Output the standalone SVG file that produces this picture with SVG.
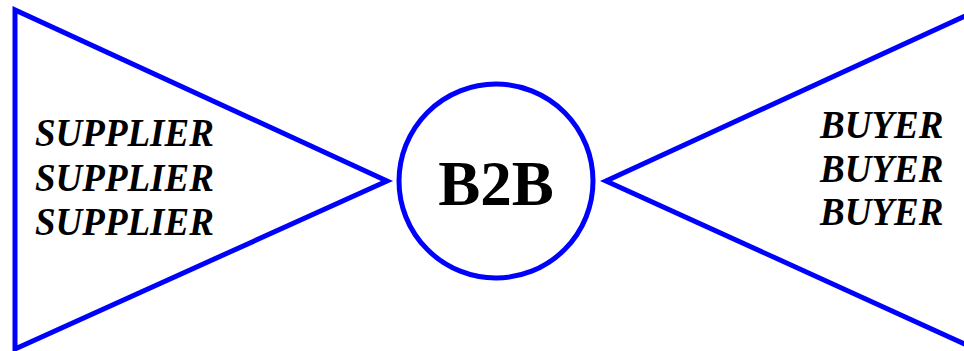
<svg xmlns="http://www.w3.org/2000/svg" width="964" height="351" viewBox="0 0 964 351">
<style>
.shape{fill:none;stroke:#0000ff;stroke-width:5;stroke-linejoin:miter}
.lbl{font-family:"Liberation Serif","Times New Roman",serif;font-weight:bold;font-style:italic;font-size:37px;fill:#000}
.hub{font-family:"Liberation Serif","Times New Roman",serif;font-weight:bold;font-size:63px;fill:#000}
</style>
<rect width="964" height="351" fill="#fff"/>
<g id="suppliers">
<polygon class="shape" points="15,10 15,349 387,181"/>
<text class="lbl" transform="translate(35,146) scale(1,1.08)">SUPPLIER</text>
<text class="lbl" transform="translate(35,191) scale(1,1.08)">SUPPLIER</text>
<text class="lbl" transform="translate(35,235) scale(1,1.08)">SUPPLIER</text>
</g>
<g id="b2b">
<circle class="shape" cx="496" cy="181" r="97"/>
<text class="hub" x="496" y="205" text-anchor="middle">B2B</text>
</g>
<g id="buyers">
<polygon class="shape" points="978,10 978,350 606,181"/>
<text class="lbl" transform="translate(820,138) scale(1,1.08)">BUYER</text>
<text class="lbl" transform="translate(820,182) scale(1,1.08)">BUYER</text>
<text class="lbl" transform="translate(820,225) scale(1,1.08)">BUYER</text>
</g>
<g id="connectors"></g>
</svg>
